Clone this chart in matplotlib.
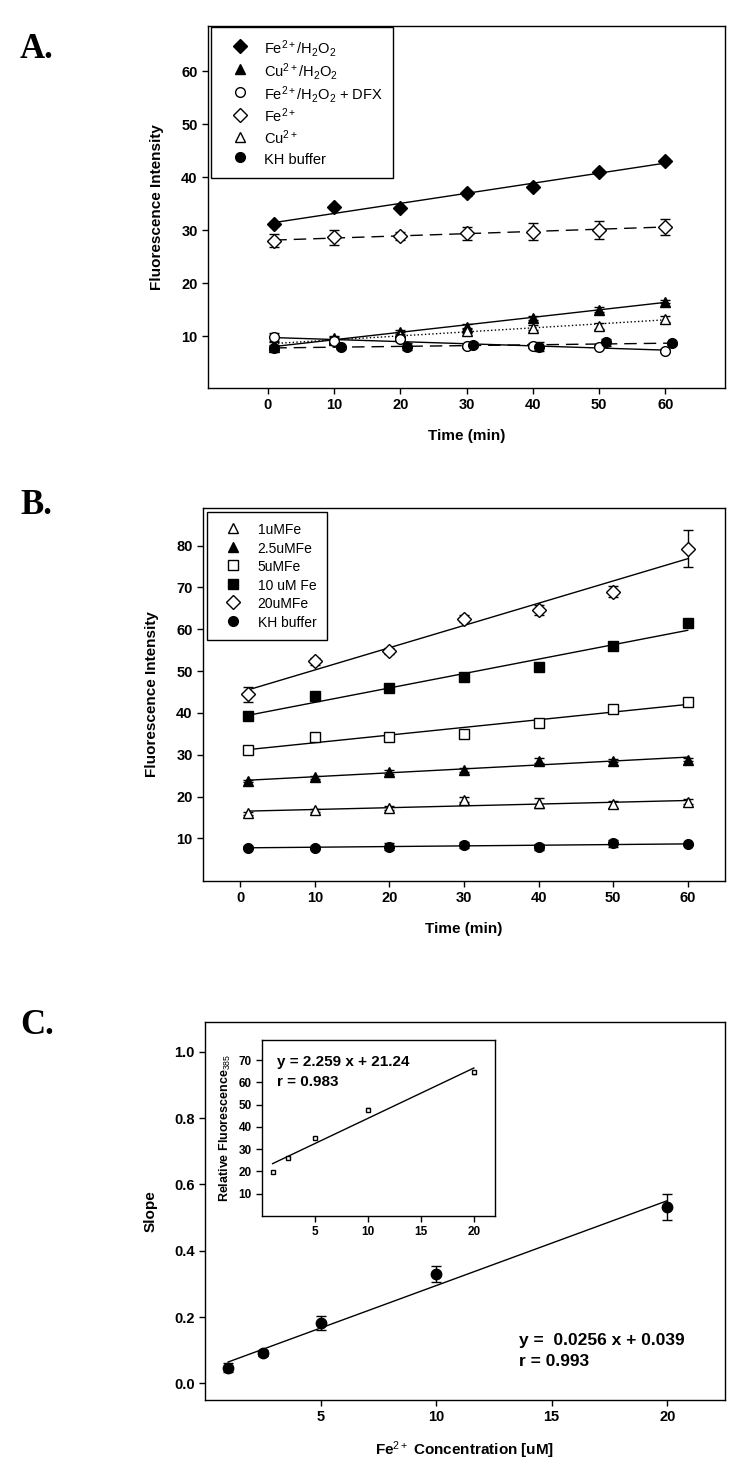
import numpy as np
import matplotlib
matplotlib.use('Agg')
import matplotlib.pyplot as plt
from matplotlib.lines import Line2D

plt.rcParams['font.family'] = ['Liberation Sans', 'DejaVu Sans']
plt.rcParams['mathtext.fontset'] = 'custom'
plt.rcParams['mathtext.rm'] = 'Liberation Sans'
plt.rcParams['mathtext.it'] = 'Liberation Sans'
plt.rcParams['mathtext.bf'] = 'Liberation Sans:bold'

# ---- panel A data ----
time_a = [1, 10, 20, 30, 40, 50, 60]
time_kh = [1, 11, 21, 31, 41, 51, 61]
fe_h2o2 = [31.2, 34.3, 34.2, 36.9, 38.1, 41.0, 43.0]
fe_h2o2_err = [0.4, 0.4, 0.4, 0.4, 0.4, 0.4, 0.4]
cu_h2o2 = [7.9, 9.7, 10.7, 11.8, 13.4, 15.0, 16.5]
cu_h2o2_err = [0.4, 0.4, 0.4, 0.4, 0.4, 0.4, 0.3]
fe_dfx = [9.8, 9.0, 9.5, 8.1, 8.2, 8.0, 7.2]
fe_dfx_err = [0.8, 0.5, 0.5, 0.3, 0.4, 0.3, 0.3]
fe_only = [28.0, 28.6, 28.9, 29.4, 29.7, 30.1, 30.6]
fe_only_err = [1.2, 1.4, 0.8, 1.2, 1.6, 1.7, 1.5]
cu_only = [8.4, 9.3, 10.2, 11.0, 11.6, 11.9, 13.2]
cu_only_err = [0.4, 0.5, 0.5, 0.5, 0.5, 0.5, 0.5]
kh_a = [7.8, 7.9, 8.0, 8.4, 8.0, 8.8, 8.6]
kh_a_err = [0.3, 0.3, 0.7, 0.5, 0.8, 0.6, 0.3]

# ---- panel B data ----
time_b = [1, 10, 20, 30, 40, 50, 60]
fe1 = [16.0, 16.7, 17.3, 19.2, 18.4, 18.1, 18.7]
fe1_err = [0.3, 0.4, 0.5, 0.6, 1.2, 0.8, 0.6]
fe25 = [23.7, 24.6, 25.8, 26.4, 28.5, 28.6, 28.8]
fe25_err = [0.3, 0.3, 0.5, 0.5, 0.6, 0.4, 0.4]
fe5 = [31.2, 34.3, 34.2, 35.0, 37.7, 41.0, 42.5]
fe5_err = [0.3, 1.0, 0.5, 0.5, 0.5, 0.7, 0.5]
fe10 = [39.3, 44.0, 46.0, 48.5, 50.9, 56.0, 61.5]
fe10_err = [0.5, 0.8, 0.5, 0.8, 0.6, 0.6, 0.5]
fe20 = [44.5, 52.3, 54.8, 62.5, 64.5, 69.0, 79.3]
fe20_err = [1.8, 0.9, 0.8, 0.8, 1.2, 1.3, 4.5]
kh_b = [7.8, 7.8, 8.0, 8.4, 8.0, 8.8, 8.6]
kh_b_err = [0.3, 0.3, 0.8, 0.7, 0.7, 0.8, 0.3]

# ---- panel C data ----
conc = [1, 2.5, 5, 10, 20]
slope = [0.048, 0.092, 0.182, 0.330, 0.532]
slope_err = [0.015, 0.010, 0.020, 0.025, 0.040]
rel_fluor = [19.8, 26.0, 35.2, 47.8, 64.5]
rel_fluor_err = [0.5, 0.5, 0.4, 0.5, 0.8]
fit_main = (0.0256, 0.039)
fit_inset = (2.259, 21.24)

W, H = 740, 1465
fig = plt.figure(figsize=(W / 100, H / 100), dpi=100)


def px_axes(left, top, right, bottom):
    return fig.add_axes([left / W, 1 - bottom / H, (right - left) / W, (bottom - top) / H])


def style(ax, size=10.5):
    ax.tick_params(direction='out', length=4, width=1, top=False, right=False,
                   labelsize=size)
    for lab in ax.get_xticklabels() + ax.get_yticklabels():
        lab.set_fontweight('bold')
    for s in ax.spines.values():
        s.set_linewidth(1)


def series(ax, x, y, err, marker, filled, ls, fit=True, ms=7):
    ax.errorbar(x, y, yerr=err, fmt=marker, color='k', mfc='k' if filled else 'white',
                mec='k', ms=ms, capsize=3.5, elinewidth=1, capthick=1, zorder=3)
    if fit:
        k, b = np.polyfit(x, y, 1)
        xs = np.array([x[0], x[-1]])
        ax.plot(xs, k * xs + b, color='k', lw=1, ls=ls, zorder=2)


def handle(marker, filled, ms=7):
    return Line2D([], [], ls='none', marker=marker, color='k', mec='k',
                  mfc='k' if filled else 'white', ms=ms)


# ================= A =================
axA = px_axes(208, 26, 725, 388)
series(axA, time_a, fe_h2o2, fe_h2o2_err, 'D', True, '-')
series(axA, time_a, fe_only, fe_only_err, 'D', False, (0, (9, 5)))
series(axA, time_a, cu_h2o2, cu_h2o2_err, '^', True, '-')
series(axA, time_a, cu_only, cu_only_err, '^', False, ':')
series(axA, time_a, fe_dfx, fe_dfx_err, 'o', False, '-')
series(axA, time_kh, kh_a, kh_a_err, 'o', True, (0, (9, 5)))
axA.set_xlim(-9, 69)
axA.set_ylim(0.2, 68.5)
axA.set_xticks([0, 10, 20, 30, 40, 50, 60])
axA.set_yticks([10, 20, 30, 40, 50, 60])
axA.set_xlabel('Time (min)', fontsize=11, fontweight='bold', labelpad=12)
axA.set_ylabel('Fluorescence Intensity', fontsize=11, fontweight='bold', labelpad=12)
style(axA)
labels_a = ['Fe$^{2+}$/H$_2$O$_2$', 'Cu$^{2+}$/H$_2$O$_2$', 'Fe$^{2+}$/H$_2$O$_2$ + DFX',
            'Fe$^{2+}$', 'Cu$^{2+}$', 'KH buffer']
handles_a = [handle('D', True), handle('^', True), handle('o', False),
             handle('D', False), handle('^', False), handle('o', True)]
legA = axA.legend(handles_a, labels_a, loc='upper left', bbox_to_anchor=(0.006, 0.997),
                  borderaxespad=0, fancybox=False, edgecolor='k', fontsize=10.5,
                  handlelength=2.55, handleheight=1.5, handletextpad=0.35,
                  labelspacing=0.14, borderpad=0.72, framealpha=1)
legA.get_frame().set_linewidth(1)

# ================= B =================
axB = px_axes(203, 508, 725, 881)
series(axB, time_b, fe1, fe1_err, '^', False, '-')
series(axB, time_b, fe25, fe25_err, '^', True, '-')
series(axB, time_b, fe5, fe5_err, 's', False, '-')
series(axB, time_b, fe10, fe10_err, 's', True, '-')
series(axB, time_b, fe20, fe20_err, 'D', False, '-')
series(axB, time_b, kh_b, kh_b_err, 'o', True, '-')
axB.set_xlim(-5, 65)
axB.set_ylim(-0.2, 89)
axB.set_xticks([0, 10, 20, 30, 40, 50, 60])
axB.set_yticks([10, 20, 30, 40, 50, 60, 70, 80])
axB.set_xlabel('Time (min)', fontsize=11, fontweight='bold', labelpad=12)
axB.set_ylabel('Fluorescence Intensity', fontsize=11, fontweight='bold', labelpad=12)
style(axB)
labels_b = ['1uMFe', '2.5uMFe', '5uMFe', '10 uM Fe', '20uMFe', 'KH buffer']
handles_b = [handle('^', False), handle('^', True), handle('s', False),
             handle('s', True), handle('D', False), handle('o', True)]
legB = axB.legend(handles_b, labels_b, loc='upper left', bbox_to_anchor=(0.008, 0.99),
                  borderaxespad=0, fancybox=False, edgecolor='k', fontsize=10,
                  handlelength=2.17, handleheight=1.31, handletextpad=0.71,
                  labelspacing=0.23, borderpad=0.75, framealpha=1)
legB.get_frame().set_linewidth(1)

# ================= C =================
axC = px_axes(205, 1022, 725, 1400)
series(axC, conc, slope, slope_err, 'o', True, '-', fit=False, ms=7.5)
xs = np.array([conc[0], conc[-1]])
axC.plot(xs, fit_main[0] * xs + fit_main[1], color='k', lw=1)
axC.set_xlim(0, 22.5)
axC.set_ylim(-0.05, 1.09)
axC.set_xticks([5, 10, 15, 20])
axC.set_yticks([0.0, 0.2, 0.4, 0.6, 0.8, 1.0])
axC.set_yticklabels(['0.0', '0.2', '0.4', '0.6', '0.8', '1.0'])
axC.set_xlabel('Fe$^{2+}$ Concentration [uM]', fontsize=11, fontweight='bold', labelpad=11)
axC.set_ylabel('Slope', fontsize=11, fontweight='bold', labelpad=12)
style(axC)
axC.text(13.6, 0.130, 'y =  0.0256 x + 0.039', fontsize=12.5, fontweight='bold', va='center')
axC.text(13.6, 0.066, 'r = 0.993', fontsize=12.5, fontweight='bold', va='center')

# inset
axI = px_axes(262, 1040, 495, 1216)
axI.errorbar(conc, rel_fluor, yerr=rel_fluor_err, fmt='s', color='k', mfc='white',
             mec='k', ms=3, capsize=1.5, elinewidth=0.8)
axI.plot(xs, fit_inset[0] * xs + fit_inset[1], color='k', lw=1)
axI.set_xlim(0, 22)
axI.set_ylim(0, 79)
axI.set_xticks([5, 10, 15, 20])
axI.set_yticks([10, 20, 30, 40, 50, 60, 70])
axI.set_ylabel('Relative Fluorescence$_{385}$', fontsize=9, fontweight='bold', labelpad=4)
style(axI, size=8.5)
axI.text(1.4, 69, 'y = 2.259 x + 21.24', fontsize=11, fontweight='bold', va='center')
axI.text(1.4, 60.3, 'r = 0.983', fontsize=11, fontweight='bold', va='center')

# panel labels
for lab, y in [('A.', 50), ('B.', 505), ('C.', 1025)]:
    fig.text(20 / W, 1 - y / H, lab, fontsize=25, fontweight='bold',
             family='Liberation Serif', va='center', ha='left')

fig.savefig('out.png', dpi=100)
